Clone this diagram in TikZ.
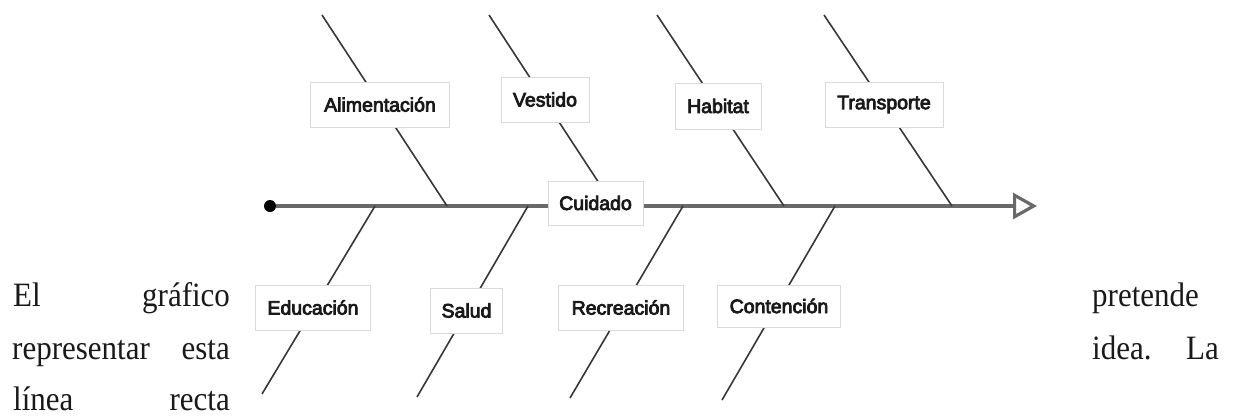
\documentclass[tikz,border=0pt]{standalone}
\usepackage{fontspec}
\usepackage{graphicx}
\setmainfont{Liberation Serif}
\newfontfamily\labfont[FakeBold=4]{Liberation Sans}
\usetikzlibrary{arrows.meta}
\pgfdeclarelayer{bg}
\pgfsetlayers{bg,main}
\definecolor{spinec}{RGB}{105,105,105}
\definecolor{branchc}{RGB}{55,55,55}
\definecolor{boxc}{RGB}{218,218,218}
\definecolor{txtc}{RGB}{25,25,25}
\begin{document}
\begin{tikzpicture}[x=1pt,y=-1pt,
  lab/.style={draw=boxc, line width=0.9pt, fill=white, inner sep=0pt, minimum height=45pt,
    font=\labfont\fontsize{19.5}{20}\selectfont, text=txtc},
  branch/.style={draw=branchc, line width=1.6pt},
  spine/.style={draw=spinec, line width=3.2pt},
  para/.style={inner sep=0pt, font=\fontsize{31}{31}\selectfont, text=txtc}]
\useasboundingbox (0,0) rectangle (1233,416);

% paragraph text
\node[para, anchor=base west] (w1) at (13,306) {\scalebox{1}[1.1]{El}};
\node[para, anchor=base west] (w2) at (142,306) {\scalebox{1}[1.1]{gráfico}};
\node[para, anchor=base west] (w3) at (1092,306) {\scalebox{1}[1.1]{pretende}};
\node[para, anchor=base west] (w4) at (12,359) {\scalebox{1}[1.1]{representar}};
\node[para, anchor=base east] (w5) at (230,359) {\scalebox{1}[1.1]{esta}};
\node[para, anchor=base west] (w6) at (1092,359) {\scalebox{1}[1.1]{idea.}};
\node[para, anchor=base east] (w7) at (1219,359) {\scalebox{1}[1.1]{La}};
\node[para, anchor=base west] (w8) at (13,410) {\scalebox{1}[1.1]{línea}};
\node[para, anchor=base east] (w9) at (230,410) {\scalebox{1}[1.1]{recta}};

% spine
\node[circle, fill=black, inner sep=0pt, minimum size=12pt] (dot) at (270,206) {};
\coordinate (head) at (1037,206);

% branch end points
\coordinate (t1) at (322,15);  \coordinate (s1) at (447,206);
\coordinate (t2) at (489,15);  \coordinate (s2) at (614,206);
\coordinate (t3) at (657,15);  \coordinate (s3) at (784,206);
\coordinate (t4) at (824,15);  \coordinate (s4) at (952,206);
\coordinate (u1) at (262,394); \coordinate (b1) at (375,206);
\coordinate (u2) at (417,397); \coordinate (b2) at (528,206);
\coordinate (u3) at (570,398); \coordinate (b3) at (683,206);
\coordinate (u4) at (722,400); \coordinate (b4) at (835,206);

% label boxes
\node[lab, minimum width=139pt] (ali) at (380,104.5) {Alimentación};
\node[lab, minimum width=88pt]  (ves) at (545,99.5) {Vestido};
\node[lab, minimum width=86pt, minimum height=46pt] (hab) at (718,106) {Habitat};
\node[lab, minimum width=118pt] (tra) at (884,104.5) {Transporte};
\node[lab, minimum width=95pt, minimum height=44pt] (cui) at (595.5,203) {Cuidado};
\node[lab, minimum width=115pt] (edu) at (313,307.5) {Educación};
\node[lab, minimum width=72pt]  (sal) at (466.5,310.5) {Salud};
\node[lab, minimum width=125pt] (rec) at (621,307.5) {Recreación};
\node[lab, minimum width=123pt, minimum height=42pt] (con) at (779,306) {Contención};

\begin{pgfonlayer}{bg}
  \draw[spine, -{Triangle[open, length=24pt, width=26pt, fill=white]}] (dot) -- (head);
  \draw[branch] (t1) -- (s1);
  \draw[branch] (t2) -- (s2);
  \draw[branch] (t3) -- (s3);
  \draw[branch] (t4) -- (s4);
  \draw[branch] (u1) -- (b1);
  \draw[branch] (u2) -- (b2);
  \draw[branch] (u3) -- (b3);
  \draw[branch] (u4) -- (b4);
\end{pgfonlayer}
\end{tikzpicture}
\end{document}
